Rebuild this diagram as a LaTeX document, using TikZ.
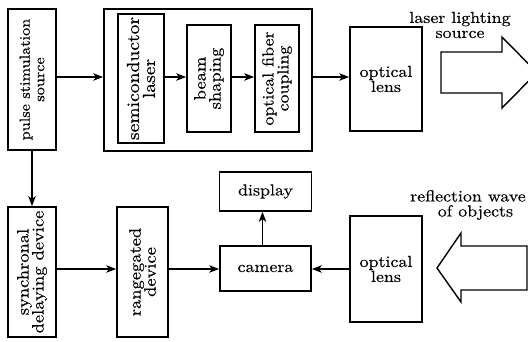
\documentclass[tikz,border=0pt]{standalone}
\usepackage{fontspec}
\setmainfont{lmroman10-regular.otf}[FakeStretch=1.12, FakeBold=0.4]
\usetikzlibrary{arrows.meta}

\tikzset{
  box/.style={draw, line width=1.7pt, inner sep=0pt, align=center,
              font=\fontsize{16}{15}\selectfont},
  vbox/.style={box, rotate=90},
  arr/.style={line width=1.1pt, -{Stealth[length=10pt,width=7.5pt,inset=2.8pt]}},
  hollow/.style={draw, line width=1.4pt, line join=miter},
  caption/.style={align=center, inner sep=0pt, font=\fontsize{16}{15}\selectfont}
}

\begin{document}
\begin{tikzpicture}[x=1pt, y=-1pt]
  \useasboundingbox (0,0) rectangle (528,341);
  \clip (0,0) rectangle (528,341);

  % transmitting chain
  \node[vbox, minimum width=141pt, minimum height=48pt,
        font=\fontsize{14.5}{14.5}\selectfont] (pulse) at (32,79.5)
        {pulse stimulation\\source};
  \node[draw, line width=1.7pt, minimum width=208pt, minimum height=142pt,
        inner sep=0pt] (laserunit) at (208,80) {};
  \node[vbox, minimum width=129pt, minimum height=46pt,
        font=\fontsize{17.5}{16}\selectfont] (semi) at (141,78.5)
        {semiconductor\\laser};
  \node[vbox, minimum width=107pt, minimum height=44pt,
        font=\fontsize{16.5}{15}\selectfont] (beam) at (209,78.5)
        {beam\\shaping};
  \node[vbox, minimum width=107pt, minimum height=44pt] (fiber) at (277,78.5)
        {optical fiber\\coupling};
  \node[box, minimum width=72pt, minimum height=104pt] (lensT) at (386,79)
        {optical\\lens};

  % receiving chain
  \node[vbox, minimum width=130pt, minimum height=48pt,
        font=\fontsize{16.5}{15}\selectfont] (sync) at (32,272)
        {synchronal\\delaying device};
  \node[vbox, minimum width=130pt, minimum height=51pt,
        font=\fontsize{16.5}{15}\selectfont] (range) at (142.5,272)
        {rangegated\\device};
  \node[box, minimum width=91pt, minimum height=45pt] (camera) at (265.5,268.5)
        {camera};
  \node[box, minimum width=92pt, minimum height=39pt] (display) at (265.5,191.5)
        {display};
  \node[box, minimum width=72pt, minimum height=106pt] (lensB) at (386,269)
        {optical\\lens};

  % signal levels
  \coordinate (top) at (0,77);
  \coordinate (bot) at (0,269);

  \draw[arr] (pulse.south |- top) -- (laserunit.west |- top);
  \draw[arr] (semi.south |- top) -- (beam.north |- top);
  \draw[arr] (beam.south |- top) -- (fiber.north |- top);
  \draw[arr] (laserunit.east |- top) -- (lensT.west |- top);
  \draw[arr] (pulse.west) -- (sync.east);
  \draw[arr] (sync.south |- bot) -- (range.north |- bot);
  \draw[arr] (range.south |- bot) -- (camera.west |- bot);
  \draw[arr] (lensB.west |- bot) -- (camera.east |- bot);
  \draw[arr] ([xshift=-3pt]camera.north) -- ([xshift=-3pt]display.south);

  % outgoing laser beam
  \draw[hollow] (441,52) -- (502,52) -- (502,37) -- (537,72.5)
        -- (502,108) -- (502,93) -- (441,93) -- cycle;
  \node[caption] (outtext) at (460,25) {laser lighting\\source};

  % returning reflected wave
  \draw[hollow] (527,246) -- (461,246) -- (461,233) -- (437,268)
        -- (461,302) -- (461,290) -- (527,290) -- cycle;
  \node[caption, anchor=north west] (intext) at (410,190)
        {reflection wave\\\hphantom{re}of objects};
\end{tikzpicture}
\end{document}
